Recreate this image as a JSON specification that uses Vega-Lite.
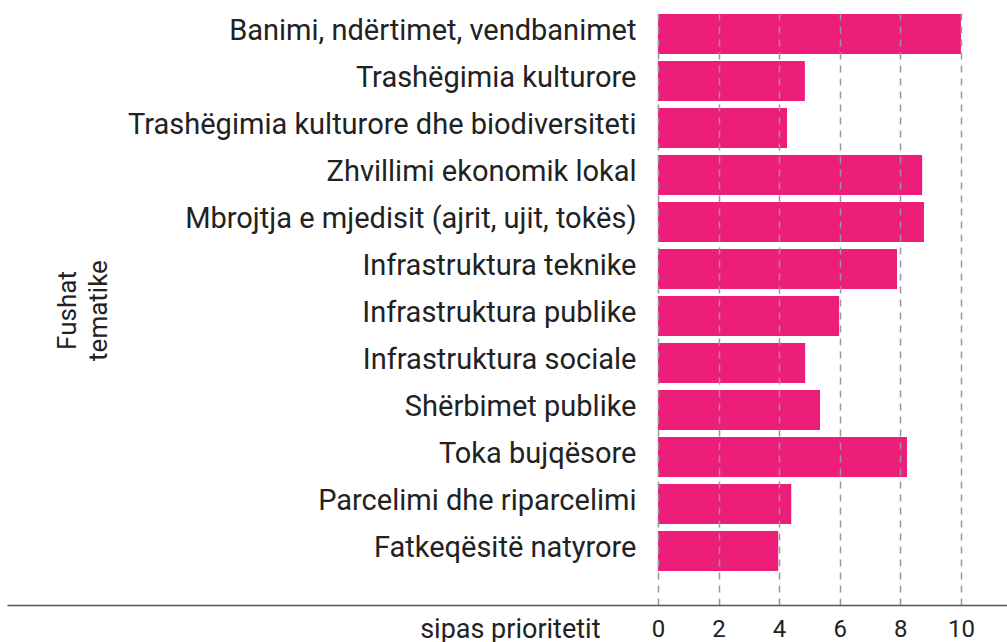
{
  "$schema": "https://vega.github.io/schema/vega-lite/v6.json",
  "autosize": "none",
  "width": 1000,
  "height": 595,
  "padding": {"left": 7, "top": 10, "right": 0, "bottom": 37},
  "background": "white",
  "config": {
    "view": {"stroke": null},
    "font": "Roboto",
    "axis": {"labelFont": "Roboto", "titleFont": "Roboto", "labelColor": "#222222", "titleColor": "#222222", "titleFontWeight": "normal"}
  },
  "data": {
    "values": [
      {"fusha": "Banimi, ndërtimet, vendbanimet", "vlera": 10.0},
      {"fusha": "Trashëgimia kulturore", "vlera": 4.85},
      {"fusha": "Trashëgimia kulturore dhe biodiversiteti", "vlera": 4.26},
      {"fusha": "Zhvillimi ekonomik lokal", "vlera": 8.72},
      {"fusha": "Mbrojtja e mjedisit (ajrit, ujit, tokës)", "vlera": 8.78},
      {"fusha": "Infrastruktura teknike", "vlera": 7.89},
      {"fusha": "Infrastruktura publike", "vlera": 5.98},
      {"fusha": "Infrastruktura sociale", "vlera": 4.86},
      {"fusha": "Shërbimet publike", "vlera": 5.35},
      {"fusha": "Toka bujqësore", "vlera": 8.22},
      {"fusha": "Parcelimi dhe riparcelimi", "vlera": 4.4},
      {"fusha": "Fatkeqësitë natyrore", "vlera": 3.97}
    ]
  },
  "mark": {"type": "bar", "color": "#ED1E79"},
  "encoding": {
    "y": {
      "field": "fusha",
      "type": "nominal",
      "sort": null,
      "scale": {"paddingInner": 0.149, "paddingOuter": 0.404, "align": 0.105},
      "axis": {
        "title": ["Fushat", "tematike"],
        "titleFontSize": 26,
        "titleAngle": -90,
        "titleAlign": "center",
        "titleBaseline": "top",
        "titleX": 47,
        "titleY": 300,
        "titleLineHeight": 31,
        "domain": false,
        "ticks": false,
        "grid": false,
        "labelFontSize": 29,
        "labelPadding": -629,
        "labelAlign": "right",
        "labelOffset": -3,
        "labelLimit": 0
      }
    },
    "x": {
      "field": "vlera",
      "type": "quantitative",
      "scale": {"domain": [-21.48, 11.52], "nice": false, "zero": false},
      "axis": {
        "values": [0, 2, 4, 6, 8, 10],
        "zindex": 1,
        "grid": true,
        "gridColor": "#999999",
        "gridDash": [7, 6],
        "gridWidth": 1.5,
        "gridOpacity": 1,
        "domain": true,
        "domainColor": "#555555",
        "domainWidth": 1.5,
        "ticks": false,
        "labelFontSize": 24,
        "labelPadding": 12,
        "labelFlush": false,
        "title": "sipas prioritetit",
        "titleFontSize": 27,
        "titleAlign": "right",
        "titleAnchor": null,
        "titleX": 593,
        "titleY": 32,
        "titleBaseline": "alphabetic"
      }
    },
    "x2": {"datum": 0}
  }
}
